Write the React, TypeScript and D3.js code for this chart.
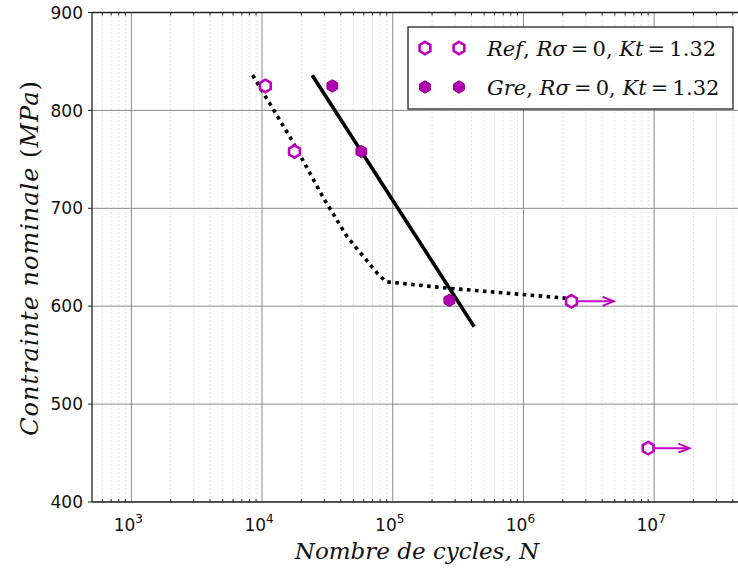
import React from "react";
import * as d3 from "d3";

// ---------- data ----------
const refCycles = [1.06e4, 1.77e4, 2.33e6, 9.0e6];
const refStress = [825, 758, 605, 455];
const refRunoutTo = [null, null, 4.9e6, 1.86e7];

const greCycles = [3.45e4, 5.75e4, 2.71e5];
const greStress = [825, 758, 606];

const solidCycles = [2.42e4, 4.2e5];
const solidStress = [836, 579];

const dottedCycles = [8.47e3, 1.65e4, 2.94e4, 4.47e4, 7.59e4, 8.9e4, 2.6e5, 2.2e6];
const dottedStress = [836, 772, 711, 671, 634, 625, 618.5, 608];

const xDecades = [1e3, 1e4, 1e5, 1e6, 1e7];
const xExponents = ["3", "4", "5", "6", "7"];
const yTicks = [400, 500, 600, 700, 800, 900];

const legendLabels = [
  { name: "Ref", filled: false },
  { name: "Gre", filled: true },
];

// ---------- layout ----------
const W = 738;
const H = 572;
const left = 92;
const top = 12.5;
const right = 745.5;
const bottom = 502;

const MAG = "#bf00bf";
const MAG_DARK = "#8a008a";
const TS = "\u2009";

function Hex({ x, y, filled }: { x: number; y: number; filled: boolean }) {
  const r = 6.2;
  const pts: string[] = [];
  for (let i = 0; i < 6; i++) {
    const a = -Math.PI / 2 + (Math.PI / 3) * i;
    pts.push(`${x + r * Math.cos(a)},${y + r * Math.sin(a)}`);
  }
  return filled ? (
    <polygon points={pts.join(" ")} fill="#b000b0" stroke={MAG_DARK} strokeWidth={1} />
  ) : (
    <polygon points={pts.join(" ")} fill="white" stroke={MAG} strokeWidth={2.6} />
  );
}

export default function App() {
  const x = d3.scaleLog().domain([500, 5e7]).range([left, right]);
  const y = d3.scaleLinear().domain([400, 900]).range([bottom, top]);

  const minor: number[] = [];
  for (let e = 2; e <= 7; e++) {
    for (let m = 2; m <= 9; m++) {
      const v = m * Math.pow(10, e);
      if (v > 500 && v < 5e7) minor.push(v);
    }
  }

  const lineGen = d3
    .line<[number, number]>()
    .x((d) => x(d[0]))
    .y((d) => y(d[1]));

  const solidData = solidCycles.map((c, i) => [c, solidStress[i]] as [number, number]);
  const dottedData = dottedCycles.map((c, i) => [c, dottedStress[i]] as [number, number]);

  const serif = "'DejaVu Serif', serif";
  const sans = "'DejaVu Sans', sans-serif";

  return (
    <svg
      width={W}
      height={H}
      style={{ position: "absolute", left: 0, top: 0, background: "white" }}
    >
      <defs>
        <clipPath id="plotclip">
          <rect x={left} y={top} width={right - left} height={bottom - top} />
        </clipPath>
      </defs>
      <rect x={0} y={0} width={W} height={H} fill="white" />

      {/* grid */}
      <g clipPath="url(#plotclip)">
        {minor.map((v, i) => (
          <line
            key={"mg" + i}
            x1={x(v)}
            x2={x(v)}
            y1={top}
            y2={bottom}
            stroke="#c8c8c8"
            strokeWidth={1}
            strokeDasharray="1,3"
          />
        ))}
        {xDecades.map((v, i) => (
          <line key={"gx" + i} x1={x(v)} x2={x(v)} y1={top} y2={bottom} stroke="#8a8a8a" strokeWidth={1} />
        ))}
        {yTicks.map((v, i) => (
          <line key={"gy" + i} x1={left} x2={right} y1={y(v)} y2={y(v)} stroke="#8a8a8a" strokeWidth={1} />
        ))}
      </g>

      {/* spines */}
      <line x1={left} x2={left} y1={top} y2={bottom} stroke="#222" strokeWidth={1.3} />
      <line x1={left} x2={right} y1={bottom} y2={bottom} stroke="#222" strokeWidth={1.3} />
      <line x1={left} x2={right} y1={top} y2={top} stroke="#222" strokeWidth={1.3} />

      {/* ticks */}
      {minor.map((v, i) => (
        <g key={"mt" + i}>
          <line x1={x(v)} x2={x(v)} y1={bottom} y2={bottom - 3} stroke="#222" strokeWidth={1} />
          <line x1={x(v)} x2={x(v)} y1={top} y2={top + 3} stroke="#222" strokeWidth={1} />
        </g>
      ))}
      {yTicks.map((v, i) => (
        <line key={"yt" + i} x1={left - 4} x2={left} y1={y(v)} y2={y(v)} stroke="#222" strokeWidth={1} />
      ))}

      {/* tick labels */}
      {yTicks.map((v, i) => (
        <text
          key={"yl" + i}
          x={left - 9}
          y={y(v)}
          dy="0.36em"
          textAnchor="end"
          fontFamily={sans}
          fontSize={17}
          fill="#111"
        >
          {v}
        </text>
      ))}
      {xDecades.map((v, i) => (
        <text key={"xl" + i} x={x(v) - 3} y={bottom + 29} textAnchor="middle" fontFamily={sans} fontSize={17} fill="#111">
          10
          <tspan dy={-8} fontSize={12}>
            {xExponents[i]}
          </tspan>
        </text>
      ))}

      {/* axis labels */}
      <text
        x={417}
        y={559}
        textAnchor="middle"
        fontFamily={serif}
        fontSize={23}
        fontStyle="italic"
        fill="#111"
      >
        Nombre de cycles, N
      </text>
      <text
        transform={`translate(38, 258) rotate(-90)`}
        textAnchor="middle"
        fontFamily={serif}
        fontSize={24}
        letterSpacing={1}
        fill="#111"
      >
        <tspan fontStyle="italic">Contrainte nominale </tspan>
        <tspan>(</tspan>
        <tspan fontStyle="italic">MPa</tspan>
        <tspan>)</tspan>
      </text>

      {/* curves */}
      <g clipPath="url(#plotclip)">
        <path d={lineGen(dottedData) || ""} fill="none" stroke="black" strokeWidth={3.6} strokeDasharray="3.6,4.4" />
        <path d={lineGen(solidData) || ""} fill="none" stroke="black" strokeWidth={3.6} />

        {/* run-out arrows */}
        {refCycles.map((c, i) => {
          const to = refRunoutTo[i];
          if (!to) return null;
          const x1 = x(c);
          const x2 = x(to);
          const yy = y(refStress[i]);
          return (
            <g key={"ar" + i} stroke={MAG} strokeWidth={2} fill="none">
              <line x1={x1} x2={x2} y1={yy} y2={yy} />
              <polyline points={`${x2 - 11},${yy - 4.5} ${x2},${yy} ${x2 - 11},${yy + 4.5}`} />
            </g>
          );
        })}

        {refCycles.map((c, i) => (
          <Hex key={"r" + i} x={x(c)} y={y(refStress[i])} filled={false} />
        ))}
        {greCycles.map((c, i) => (
          <Hex key={"g" + i} x={x(c)} y={y(greStress[i])} filled={true} />
        ))}
      </g>

      {/* legend */}
      <g>
        <rect x={408} y={27} width={325} height={82} fill="white" stroke="#222" strokeWidth={1.3} />
        {legendLabels.map((l, i) => {
          const cy = 48 + i * 39;
          return (
            <g key={"lg" + i}>
              <Hex x={425} y={cy} filled={l.filled} />
              <Hex x={459} y={cy} filled={l.filled} />
              <text x={487} y={cy + 7.5} fontFamily={serif} fontSize={21} fill="#111">
                <tspan fontStyle="italic">{l.name}</tspan>
                <tspan>, </tspan>
                <tspan fontStyle="italic">Rσ</tspan>
                <tspan>{TS + "=" + TS + "0, "}</tspan>
                <tspan fontStyle="italic">Kt</tspan>
                <tspan>{TS + "=" + TS + "1.32"}</tspan>
              </text>
            </g>
          );
        })}
      </g>
    </svg>
  );
}
